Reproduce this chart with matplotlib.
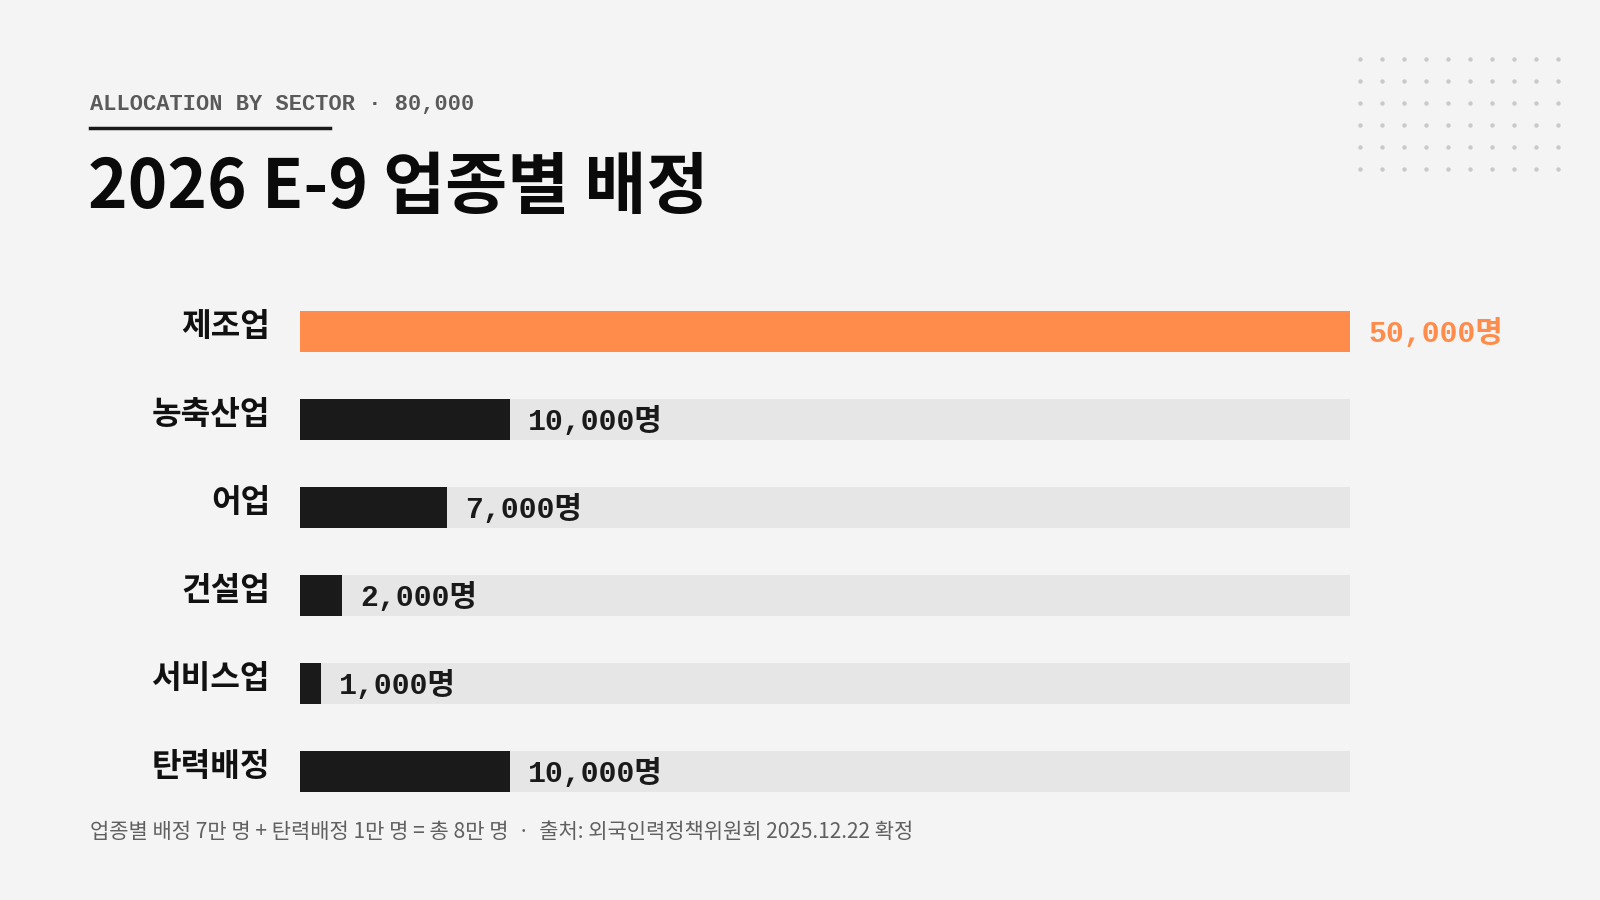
import matplotlib.pyplot as plt
from matplotlib.transforms import blended_transform_factory, offset_copy
import numpy as np

# data
sectors = ["제조업", "농축산업", "어업", "건설업", "서비스업", "탄력배정"]
quota = [50000, 10000, 7000, 2000, 1000, 10000]
scale_max = 50000
kicker = "ALLOCATION BY SECTOR · 80,000"
title = "2026 E-9 업종별 배정"
note = "업종별 배정 7만 명 + 탄력배정 1만 명 = 총 8만 명  ·  출처: 외국인력정책위원회 2025.12.22 확정"

bg = "#f4f4f4"
track = "#e6e6e6"
dark = "#1a1a1a"
orange = "#ff8c4b"
kr = ["Noto Sans CJK KR", "DejaVu Sans"]
mono = ["Liberation Mono", "Noto Sans CJK KR"]

W, H = 1600, 900
fig = plt.figure(figsize=(16, 9), dpi=100, facecolor=bg)

# bar area in pixels (from top-left)
left, right = 300, 1350
top, bottom = 287.5, 815.5
ax = fig.add_axes([left / W, 1 - bottom / H, (right - left) / W, (bottom - top) / H])
ax.set_facecolor(bg)

y = np.arange(len(sectors))
ax.barh(y, [scale_max] * len(y), height=0.455, color=track, zorder=1)
colors = [orange if i == 0 else dark for i in range(len(y))]
ax.barh(y, quota, height=0.455, color=colors, zorder=2)

for i, v in enumerate(quota):
    ax.annotate(f"{v:,}명", (v, i), xytext=(13, -1), textcoords="offset points",
                va="center", ha="left", fontsize=21.5, fontweight="bold",
                family=mono, color=orange if i == 0 else dark, zorder=3)

# sector names, right aligned left of the bars, sitting a little high
lab_tr = offset_copy(blended_transform_factory(ax.transAxes, ax.transData),
                     fig=fig, x=-30, y=5, units="dots")
for i, s in enumerate(sectors):
    ax.text(0, i, s, transform=lab_tr, ha="right", va="center", family=kr,
            fontsize=23.2, fontweight="bold", color="#111111")

ax.set_xlim(0, scale_max)
ax.set_ylim(len(y) - 0.5, -0.5)
ax.set_xticks([])
ax.set_yticks([])
for s in ax.spines.values():
    s.set_visible(False)

# header
fig.text(90 / W, 1 - 105 / H, kicker, family=mono, fontsize=15.8, fontweight="bold",
         color="#5a5a5a", va="center", ha="left")
fig.add_artist(plt.Line2D([90 / W, 330 / W], [1 - 127.5 / H] * 2, color="#1a1a1a", lw=2.5))
fig.text(88 / W, 1 - 188 / H, title, family=kr, fontsize=48.5, fontweight="bold",
         color="#0a0a0a", va="center", ha="left")

# dot grid decoration
gx, gy = np.meshgrid(np.arange(10), np.arange(6))
dots = fig.add_axes([0, 0, 1, 1], facecolor="none")
dots.set_xlim(0, W)
dots.set_ylim(H, 0)
dots.axis("off")
dots.scatter(1360 + gx.ravel() * 22, 59 + gy.ravel() * 22, s=10, color="#c9c9c9", lw=0)

# footnote
fig.text(90 / W, 1 - 832 / H, note, family=kr, fontsize=15.1, color="#606060",
         va="center", ha="left")

fig.savefig("out.png", dpi=100, facecolor=bg)
